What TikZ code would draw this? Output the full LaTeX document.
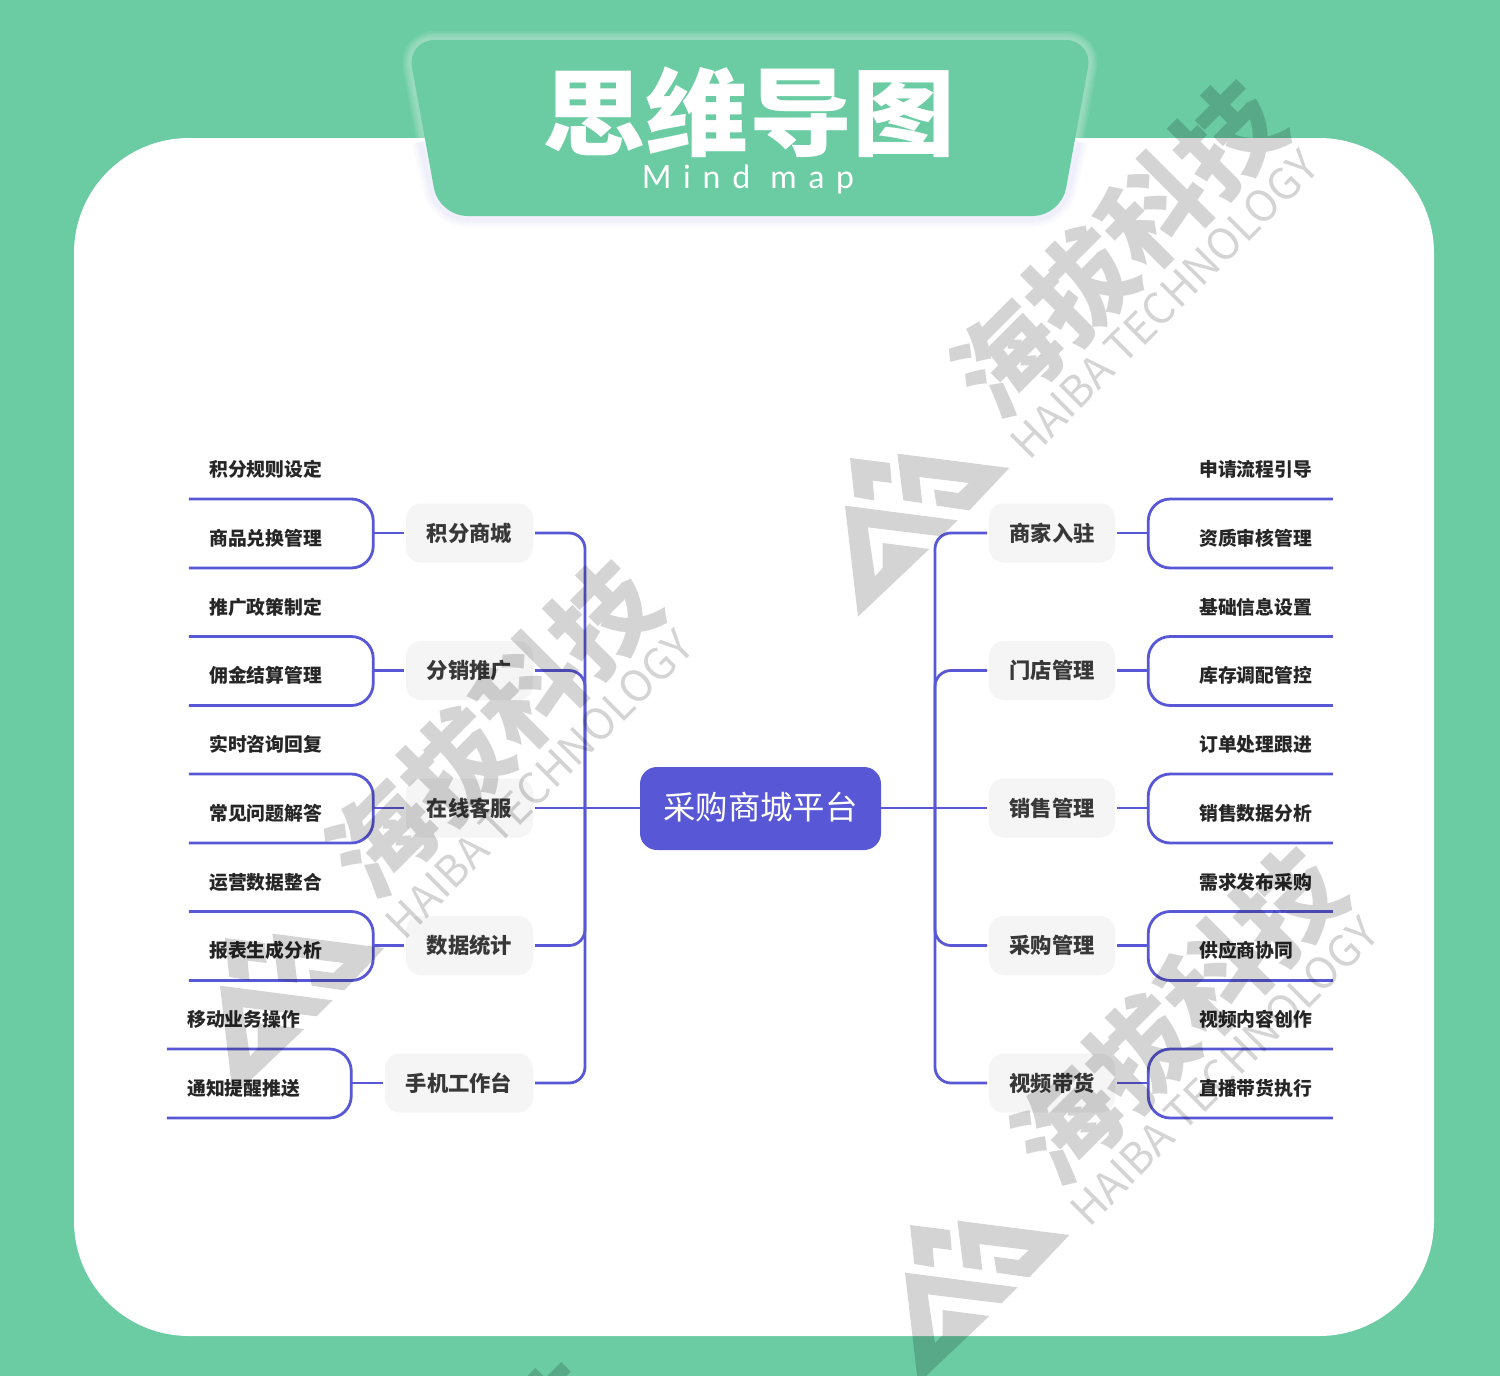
\documentclass[tikz,border=0pt]{standalone}
\usepackage{fontspec}
\usepackage{tikz}
\setmainfont{Noto Sans CJK SC}
\newfontfamily\latinfont[LetterSpace=37]{Lato}
\newfontfamily\heavyfont{Noto Sans CJK SC Black}
\definecolor{mapgreen}{HTML}{6BCCA3}
\definecolor{mapblue}{HTML}{5858D6}
\definecolor{branchgray}{HTML}{F5F5F5}
\tikzset{
    link/.style={draw=mapblue, line width=2.8pt},
    central/.style={draw=none, fill=mapblue, rounded corners=17pt, minimum width=241pt, minimum height=83pt, text=white, font=\fontsize{32.4}{33}\selectfont, inner sep=0pt},
    branch/.style={fill=branchgray, rounded corners=15pt, minimum height=59pt, text=black!78, font=\fontsize{21.3}{22}\selectfont\bfseries, inner sep=0pt, outer sep=2pt},
    leaf/.style={minimum width=184.5pt, minimum height=60pt, inner sep=0pt, outer sep=0pt},
    leaftext/.style={anchor=west, text=black!85, font=\fontsize{18.8}{20}\selectfont\bfseries, inner sep=0pt},
    wmark/.style={black, opacity=0.17},
}
\begin{document}
\begin{tikzpicture}[x=1pt, y=-1pt]
    \useasboundingbox (0,0) rectangle (1500,1376);
    \clip (0,0) rectangle (1500,1376);

    % Background and panel
    \fill[mapgreen] (0,0) rectangle (1500,1376);
    \fill[white, rounded corners=115pt] (74,138) rectangle (1434,1336);

    % Banner with its glow and shadow
    \foreach \w in {18,14,10,6} {
        \draw[white, line width=\w pt, opacity=0.09, rounded corners=28pt] (407,40) -- (1093,40) -- (1061,216) -- (439,216) -- cycle;
        \draw[mapblue, line width=\w pt, opacity=0.018, rounded corners=28pt] (421,142) -- (439,218) -- (1061,218) -- (1079,142);
    }
    \fill[mapgreen, rounded corners=28pt] (407,40) -- (1093,40) -- (1061,216) -- (439,216) -- cycle;
    \node[white, font=\fontsize{95}{95}\heavyfont, inner sep=0pt] (title) at (749,112) {\scalebox{1.085}[1]{思维导图}};
    \node[white, font=\fontsize{32}{32}\latinfont, inner sep=0pt] (subtitle) at (748,179) {Mind map};

    % Centre
    \node[central] (ctr) at (760.5,808.5) {\raisebox{5pt}{采购商城平台}};
    \coordinate (rhub) at (935,808);
    \coordinate (lhub) at (585,808);

    % Right side
    \foreach \i/\cy/\lab/\ta/\tb in {
        1/533/商家入驻/申请流程引导/资质审核管理,
        2/670.5/门店管理/基础信息设置/库存调配管控,
        3/808/销售管理/订单处理跟进/销售数据分析,
        4/945.5/采购管理/需求发布采购/供应商协同,
        5/1083/视频带货/视频内容创作/直播带货执行} {
        \node[branch, minimum width=126pt] (r\i) at (1052,\cy) {\raisebox{2pt}{\lab}};
        \node[leaf] (r\i a) at (1240.5,\cy-64) {};
        \node[leaf] (r\i b) at (1240.5,\cy+5) {};
        \node[leaftext] (rt\i a) at (1199,\cy-63.5) {\ta};
        \node[leaftext] (rt\i b) at (1199,\cy+5) {\tb};
        \draw[link, rounded corners=22pt] (r\i a.south east) -- (r\i a.south west) -- (r\i b.south west) -- (r\i b.south east);
        \draw[link] (r\i.east) -- (r\i a.south west |- r\i.east);
    }
    \draw[link] (ctr.east |- r3.west) -- (r3.west);
    \draw[link, rounded corners=16pt] (rhub) |- (r1.west);
    \draw[link, rounded corners=16pt] (rhub) |- (r2.west);
    \draw[link, rounded corners=16pt] (rhub) |- (r4.west);
    \draw[link, rounded corners=16pt] (rhub) |- (r5.west);

    % Left side
    \foreach \i/\cy/\lab/\ta/\tb in {
        1/533/积分商城/积分规则设定/商品兑换管理,
        2/670.5/分销推广/推广政策制定/佣金结算管理,
        3/808/在线客服/实时咨询回复/常见问题解答,
        4/945.5/数据统计/运营数据整合/报表生成分析} {
        \node[branch, minimum width=127pt] (l\i) at (469.5,\cy) {\raisebox{2pt}{\lab}};
        \node[leaf] (l\i a) at (281,\cy-64) {};
        \node[leaf] (l\i b) at (281,\cy+5) {};
        \node[leaftext] (lt\i a) at (209,\cy-63.5) {\ta};
        \node[leaftext] (lt\i b) at (209,\cy+5) {\tb};
    }
    \node[branch, minimum width=148pt] (l5) at (459,1083) {\raisebox{2pt}{手机工作台}};
    \node[leaf] (l5a) at (259,1019) {};
    \node[leaf] (l5b) at (259,1088) {};
    \node[leaftext] (lt5a) at (187,1019.5) {移动业务操作};
    \node[leaftext] (lt5b) at (187,1088) {通知提醒推送};
    \foreach \i in {1,...,5} {
        \draw[link, rounded corners=22pt] (l\i a.south west) -- (l\i a.south east) -- (l\i b.south east) -- (l\i b.south west);
        \draw[link] (l\i.west) -- (l\i a.south east |- l\i.west);
    }
    \draw[link] (ctr.west |- l3.east) -- (l3.east);
    \draw[link, rounded corners=16pt] (lhub) |- (l1.east);
    \draw[link, rounded corners=16pt] (lhub) |- (l2.east);
    \draw[link, rounded corners=16pt] (lhub) |- (l4.east);
    \draw[link, rounded corners=16pt] (lhub) |- (l5.east);

    % Watermarks
    \foreach \dx/\dy in {0/0, -60/-767, -685/-287, -735/516} {
        \begin{scope}[shift={(\dx,\dy)}]
            \node[wmark, rotate=45, inner sep=0pt, font=\fontsize{104}{104}\heavyfont] (wa) at (1178,1015) {海拔科技};
            \node[wmark, rotate=45, inner sep=0pt, font=\fontsize{43}{43}\selectfont] (wb) at (1224,1071) {HAIBA TECHNOLOGY};
            \begin{scope}[shift={(880,1180)}, x=0.3333pt, y=-0.3333pt]
                \fill[wmark] (90,135) -- (210,150) -- (215,210) -- (158,203) -- (163,262) -- (103,252) -- cycle;
                \fill[wmark] (232,122) -- (568,165) -- (448,292) -- (350,278) -- (342,230) -- (415,240) -- (447,210) -- (298,192) -- (307,270) -- (250,262) -- cycle;
                \fill[wmark] (75,278) -- (413,322) -- (365,370) -- (143,343) -- (165,490) -- (188,465) -- (188,390) -- (328,408) -- (114,611) -- cycle;
            \end{scope}
        \end{scope}
    }
\end{tikzpicture}
\end{document}
